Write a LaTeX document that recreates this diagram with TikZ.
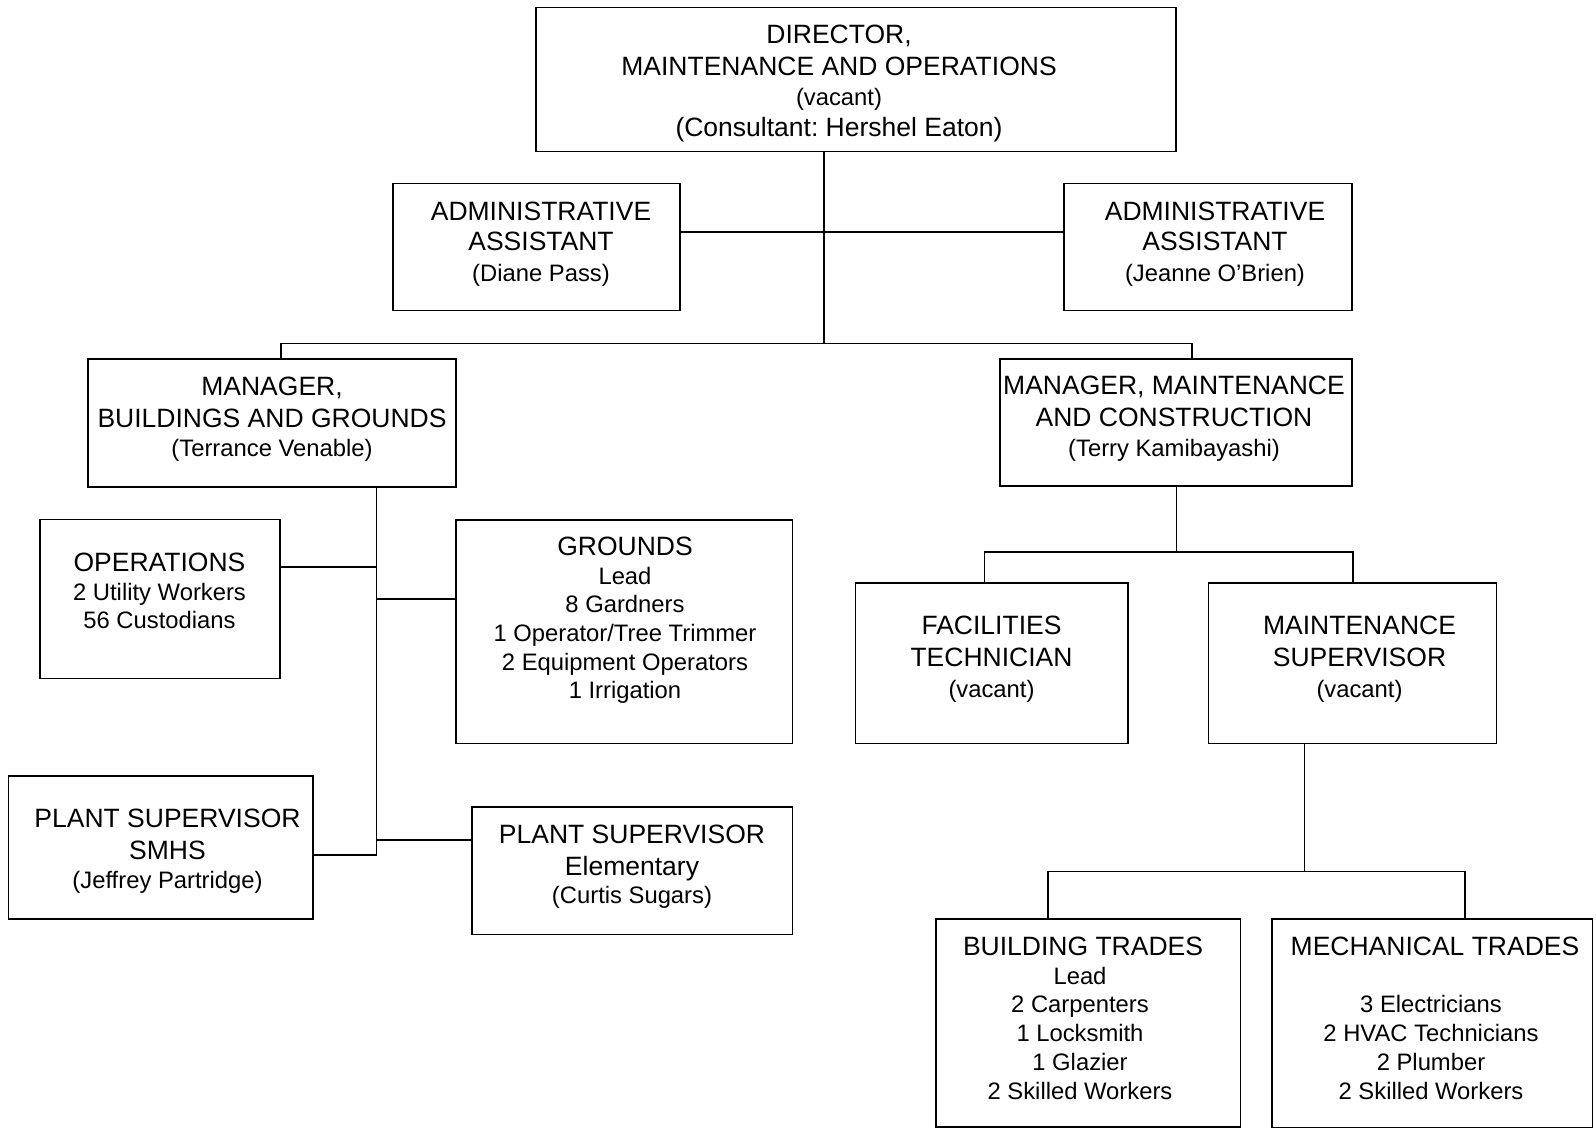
\documentclass[tikz,border=0pt]{standalone}
\usepackage{fontspec}
\setmainfont{Liberation Sans}
\frenchspacing
\newcommand\tfont{\fontsize{26.5}{30}\selectfont\frenchspacing}
\newcommand\dfont{\fontsize{23.8}{28}\selectfont\frenchspacing}
\tikzset{
  orgbox/.style={draw=black, line width=1.6pt, inner sep=0pt, outer sep=0pt},
  tline/.style={anchor=base, inner sep=0pt, font=\tfont},
  dline/.style={anchor=base, inner sep=0pt, font=\dfont},
  link/.style={draw=black, line width=1.6pt},
}
\newcommand\orgbox[5]{\node[orgbox, minimum width={#4-#2}, minimum height={#5-#3}] (#1) at ({(#2+#4)/2},{(#3+#5)/2}) {};}
\newcommand\tln[4]{\node[tline] (#1) at (#2,#3) {#4};}
\newcommand\dln[4]{\node[dline] (#1) at (#2,#3) {#4};}
\begin{document}
\begin{tikzpicture}[x=1pt,y=-1pt]
\useasboundingbox (0,0) rectangle (1596,1130);
% boxes
\orgbox{dir}{536}{7.3}{1176}{151.5}
\orgbox{adl}{393}{183.3}{680}{310.5}
\orgbox{adr}{1064}{183.3}{1352}{310.5}
\orgbox{bg}{88}{359}{456}{486.7}
\orgbox{mc}{1000}{359}{1352}{486}
\orgbox{ops}{40}{519.3}{280}{678.3}
\orgbox{gr}{456}{520}{792.4}{743.3}
\orgbox{smhs}{8.3}{775.7}{312.7}{919}
\orgbox{el}{472}{807}{792.4}{934.3}
\orgbox{fac}{855.6}{583}{1128}{743.3}
\orgbox{ms}{1208.4}{583}{1496.5}{743.3}
\orgbox{bt}{936.2}{919}{1240.5}{1127}
\orgbox{mt}{1272}{919}{1592.4}{1127.3}
% texts
\tln{dir1}{839}{43}{DIRECTOR,}
\tln{dir2}{839}{75}{MAINTENANCE AND OPERATIONS}
\dln{dir3}{839}{105}{(vacant)}
\tln{dir4}{839}{136.5}{(Consultant: Hershel Eaton)}
\tln{adl1}{541}{220}{ADMINISTRATIVE}
\tln{adl2}{541}{250.5}{ASSISTANT}
\dln{adl3}{541}{281}{(Diane Pass)}
\tln{adr1}{1215}{220}{ADMINISTRATIVE}
\tln{adr2}{1215}{250.5}{ASSISTANT}
\dln{adr3}{1215}{281}{(Jeanne O’Brien)}
\tln{bg1}{272}{395}{MANAGER,}
\tln{bg2}{272}{427.5}{BUILDINGS AND GROUNDS}
\dln{bg3}{272}{456}{(Terrance Venable)}
\tln{mc1}{1174}{394.5}{MANAGER, MAINTENANCE}
\tln{mc2}{1174}{426.5}{AND CONSTRUCTION}
\dln{mc3}{1174}{456}{(Terry Kamibayashi)}
\tln{ops1}{159.5}{571}{OPERATIONS}
\dln{ops2}{159.5}{600}{2 Utility Workers}
\dln{ops3}{159.5}{628}{56 Custodians}
\tln{gr1}{625}{555}{GROUNDS}
\dln{gr2}{625}{584.5}{Lead}
\dln{gr3}{625}{612.5}{8 Gardners}
\dln{gr4}{625}{641.5}{1 Operator/Tree Trimmer}
\dln{gr5}{625}{670}{2 Equipment Operators}
\dln{gr6}{625}{698.5}{1 Irrigation}
\tln{sm1}{167.5}{827.7}{PLANT SUPERVISOR}
\tln{sm2}{167.5}{859}{SMHS}
\dln{sm3}{167.5}{888}{(Jeffrey Partridge)}
\tln{el1}{632}{843}{PLANT SUPERVISOR}
\tln{el2}{632}{875}{Elementary}
\dln{el3}{632}{903}{(Curtis Sugars)}
\tln{fac1}{991.5}{634.5}{FACILITIES}
\tln{fac2}{991.5}{666.5}{TECHNICIAN}
\dln{fac3}{991.5}{697}{(vacant)}
\tln{ms1}{1359.5}{634.5}{MAINTENANCE}
\tln{ms2}{1359.5}{666.5}{SUPERVISOR}
\dln{ms3}{1359.5}{697}{(vacant)}
\tln{bt1}{1083}{955}{BUILDING TRADES}
\dln{bt2}{1080}{984.3}{Lead}
\dln{bt3}{1080}{1012.7}{2 Carpenters}
\dln{bt4}{1080}{1041}{1 Locksmith}
\dln{bt5}{1080}{1070}{1 Glazier}
\dln{bt6}{1080}{1099.3}{2 Skilled Workers}
\tln{mt1}{1435}{955}{MECHANICAL TRADES}
\dln{mt3}{1431}{1012.5}{3 Electricians}
\dln{mt4}{1431}{1041}{2 HVAC Technicians}
\dln{mt5}{1431}{1070}{2 Plumber}
\dln{mt6}{1431}{1099}{2 Skilled Workers}
% junction coordinates
\coordinate (ya) at (0,232);
\coordinate (bj) at (824,343.5);
\coordinate (b1) at (281,343.5);
\coordinate (b2) at (1192,343.5);
\coordinate (s1) at (376.5,855);
\coordinate (o1) at (376.5,567);
\coordinate (g1) at (376.5,599);
\coordinate (e1) at (376.5,840);
\coordinate (m1) at (1176.5,552);
\coordinate (f1) at (984.4,552);
\coordinate (f2) at (1352.7,552);
\coordinate (t0) at (1304.3,871.5);
\coordinate (t1) at (1048,871.5);
\coordinate (t2) at (1465,871.5);
% connectors
\draw[link] (dir.south -| bj) -- (bj);
\draw[link] (adl.east |- ya) -- (adr.west |- ya);
\draw[link] (bg.north -| b1) -- (b1) -- (b2) -- (mc.north -| b2);
\draw[link] (bg.south -| s1) -- (s1) -- (smhs.east |- s1);
\draw[link] (ops.east |- o1) -- (o1);
\draw[link] (g1) -- (gr.west |- g1);
\draw[link] (e1) -- (el.west |- e1);
\draw[link] (mc.south -| m1) -- (m1);
\draw[link] (fac.north -| f1) -- (f1) -- (f2) -- (ms.north -| f2);
\draw[link] (ms.south -| t0) -- (t0);
\draw[link] (bt.north -| t1) -- (t1) -- (t2) -- (mt.north -| t2);
\end{tikzpicture}
\end{document}
